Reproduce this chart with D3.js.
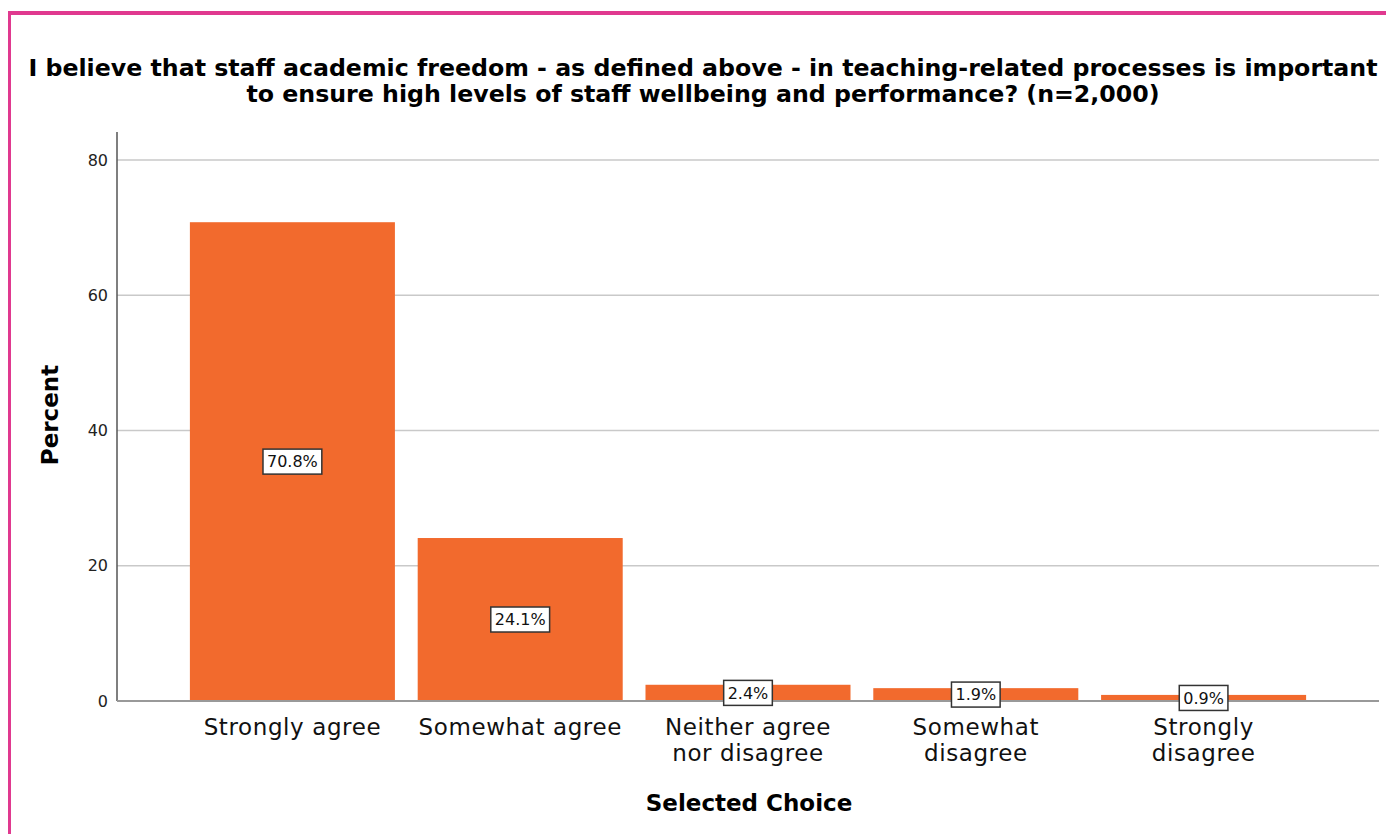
<!DOCTYPE html>
<html>
<head>
<meta charset="utf-8">
<script src="https://cdn.jsdelivr.net/npm/d3@7"></script>
<style>
  html, body { margin: 0; padding: 0; background: #fff; }
  svg { display: block; }
</style>
</head>
<body>
<svg id="chart" width="1386" height="834"></svg>
<script>
// Survey responses (percent of n=2,000)
const categories = [
  ["Strongly agree"],
  ["Somewhat agree"],
  ["Neither agree", "nor disagree"],
  ["Somewhat", "disagree"],
  ["Strongly", "disagree"]
];
const percents = [70.8, 24.1, 2.4, 1.9, 0.9];
const yTicks = [0, 20, 40, 60, 80];
const titleLines = [
  "I believe that staff academic freedom - as defined above - in teaching-related processes is important",
  "to ensure high levels of staff wellbeing and performance? (n=2,000)"
];

const FONT = "'DejaVu Sans', Verdana, sans-serif";
const svg = d3.select("#chart");

// Frame accents
svg.append("rect").attr("x", 8).attr("y", 11).attr("width", 1378).attr("height", 4).attr("fill", "#e0398f");
svg.append("rect").attr("x", 8).attr("y", 11).attr("width", 3).attr("height", 823).attr("fill", "#e0398f");

const plot = { left: 117, right: 1379, top: 132, bottom: 701 };

const x = d3.scaleBand()
  .domain(d3.range(categories.length))
  .range([plot.left, plot.right])
  .paddingInner(0.1)
  .paddingOuter(0.32);

const y = d3.scaleLinear()
  .domain([0, 80])
  .range([plot.bottom, 160]);

// Title, two centred lines, fitted to the frame width
const titleG = svg.append("g");
const title = titleG.append("text")
  .attr("text-anchor", "middle")
  .attr("font-family", FONT)
  .attr("font-weight", "bold")
  .attr("font-stretch", "condensed")
  .attr("font-size", 22.5)
  .attr("fill", "#000");
titleLines.forEach((t, i) => {
  title.append("tspan").attr("x", 0).attr("y", i * 26).text(t);
});
const w = title.select("tspan").node().getComputedTextLength();
const sx = 1350 / w;
titleG.attr("transform", `translate(703,76) scale(${sx},1)`);

// Gridlines
svg.append("g")
  .selectAll("line")
  .data(yTicks.filter(d => d > 0))
  .join("line")
  .attr("x1", plot.left).attr("x2", plot.right)
  .attr("y1", d => y(d)).attr("y2", d => y(d))
  .attr("stroke", "#c9c9c9")
  .attr("stroke-width", 1.3);

// Y axis
const yAxis = svg.append("g")
  .attr("transform", `translate(${plot.left},0)`)
  .call(d3.axisLeft(y).tickValues(yTicks).tickSize(0).tickPadding(9).tickFormat(d3.format("d")));
yAxis.select(".domain").remove();
yAxis.selectAll("text")
  .attr("font-family", FONT)
  .attr("font-size", 16)
  .attr("fill", "#222");
svg.append("line")
  .attr("x1", plot.left).attr("x2", plot.left)
  .attr("y1", plot.top).attr("y2", plot.bottom)
  .attr("stroke", "#555").attr("stroke-width", 1.5);

// Bars
svg.append("g")
  .selectAll("rect")
  .data(percents)
  .join("rect")
  .attr("x", (d, i) => x(i))
  .attr("width", x.bandwidth())
  .attr("y", d => y(d))
  .attr("height", d => y(0) - y(d))
  .attr("fill", "#f26a2d");

// X baseline
svg.append("line")
  .attr("x1", plot.left).attr("x2", plot.right)
  .attr("y1", plot.bottom).attr("y2", plot.bottom)
  .attr("stroke", "#999").attr("stroke-width", 2);

// Category labels
const xAxis = svg.append("g")
  .attr("transform", `translate(0,${plot.bottom})`)
  .call(d3.axisBottom(x).tickSize(0).tickFormat(""));
xAxis.select(".domain").remove();
xAxis.selectAll(".tick").each(function(i) {
  const t = d3.select(this).append("text")
    .attr("text-anchor", "middle")
    .attr("font-family", FONT)
    .attr("font-size", 23)
    .attr("letter-spacing", 0.6)
    .attr("fill", "#111");
  categories[i].forEach((line, k) => {
    t.append("tspan").attr("x", 0).attr("y", 34 + k * 26).text(line);
  });
});

// Value labels in boxes at bar midpoints
const labels = svg.append("g")
  .selectAll("g")
  .data(percents)
  .join("g")
  .attr("transform", (d, i) => `translate(${x(i) + x.bandwidth() / 2},${(y(d) + y(0)) / 2})`);
labels.each(function(d) {
  const g = d3.select(this);
  const rect = g.append("rect");
  const txt = g.append("text")
    .attr("text-anchor", "middle")
    .attr("dy", "0.36em")
    .attr("font-family", FONT)
    .attr("font-size", 16)
    .attr("fill", "#111")
    .text(d3.format(".1f")(d) + "%");
  const tw = txt.node().getComputedTextLength();
  const bw = tw + 8;
  const bh = 25;
  rect.attr("x", -bw / 2).attr("y", -bh / 2)
    .attr("width", bw).attr("height", bh)
    .attr("fill", "#fff")
    .attr("stroke", "#333")
    .attr("stroke-width", 1.5);
});

// Axis titles
svg.append("text")
  .attr("transform", "translate(58,415) rotate(-90)")
  .attr("text-anchor", "middle")
  .attr("font-family", FONT)
  .attr("font-weight", "bold")
  .attr("font-size", 23)
  .attr("fill", "#000")
  .text("Percent");

svg.append("text")
  .attr("x", 749).attr("y", 811)
  .attr("text-anchor", "middle")
  .attr("font-family", FONT)
  .attr("font-weight", "bold")
  .attr("font-size", 23)
  .attr("fill", "#000")
  .text("Selected Choice");
</script>
</body>
</html>
